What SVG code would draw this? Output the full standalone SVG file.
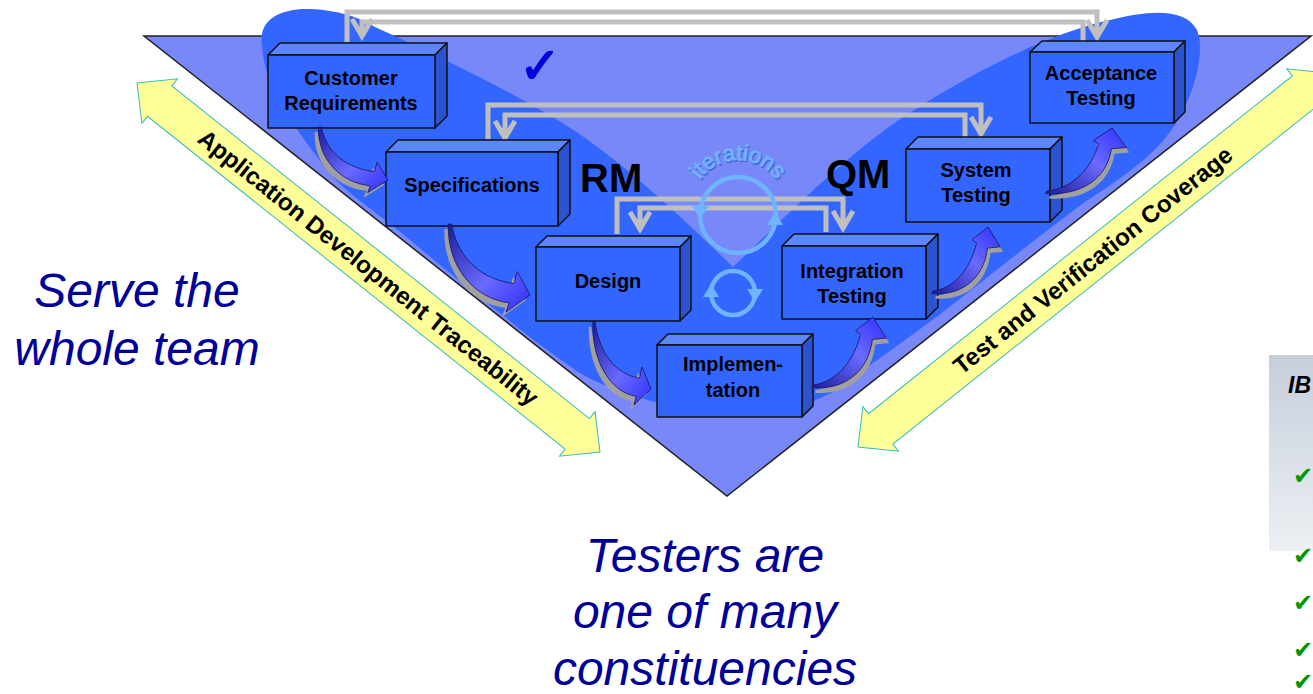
<svg xmlns="http://www.w3.org/2000/svg" xmlns:xlink="http://www.w3.org/1999/xlink" width="1313" height="694" viewBox="0 0 1313 694">
<style>
.front{fill:#3366FF;stroke:#111;stroke-width:1.5;stroke-linejoin:round}
.top{fill:#5C86FF;stroke:#111;stroke-width:1.5;stroke-linejoin:round}
.side{fill:#2B53CF;stroke:#111;stroke-width:1.5;stroke-linejoin:round}
.bt{font-family:"Liberation Sans",Arial,sans-serif;font-weight:bold;font-size:20px;text-anchor:middle;fill:#000}
.fb{fill:none;stroke:#BFBFBF;stroke-width:5}
.yel{fill:#FFFF99;stroke:#33BBBB;stroke-width:1}
.ylab{font-family:"Liberation Sans",Arial,sans-serif;font-weight:bold;font-size:24px;text-anchor:middle;fill:#000}
.big{font-family:"Liberation Sans",Arial,sans-serif;font-style:italic;font-size:48px;text-anchor:middle;fill:#000099}
.mq{font-family:"Liberation Sans",Arial,sans-serif;font-weight:bold;font-size:40px;fill:#000}
.it{fill:none;stroke:#6EB4FF;stroke-width:4.5}
.ith{fill:#6EB4FF}
.itx{font-family:"Liberation Sans",Arial,sans-serif;font-size:22px;stroke-width:0.9}
.gck{font-family:"DejaVu Sans",sans-serif;font-size:24px;fill:#009900}
</style>
<defs>
<linearGradient id="gd" x1="0" y1="0" x2="1" y2="1">
<stop offset="0" stop-color="#1c1c9c"/><stop offset="0.55" stop-color="#6a6aff"/><stop offset="1" stop-color="#2f2fff"/>
</linearGradient>
<linearGradient id="gu" x1="0" y1="1" x2="1" y2="0">
<stop offset="0" stop-color="#1c1c9c"/><stop offset="0.55" stop-color="#6a6aff"/><stop offset="1" stop-color="#2f2fff"/>
</linearGradient>
<linearGradient id="pg" x1="0" y1="0" x2="0" y2="1">
<stop offset="0" stop-color="#C6CEDA"/><stop offset="1" stop-color="#EDF0F4"/>
</linearGradient>
<path id="swd" vector-effect="non-scaling-stroke" stroke-width="0.8" d="M2,0 C10,50 40,78 80,84 L84,67 L100,100 L70,124 L74,111 C30,105 -4,60 -2,0 Z"/>
<path id="swu" vector-effect="non-scaling-stroke" stroke-width="0.8" d="M0,0 C40,-4 70,-38 79,-75 L71,-80 L100,-100 L122,-69 L99,-67 C93,-22 55,8 -2,4 Z"/>
<path id="iterArc" d="M691,207 A47,47 0 0 1 785,207"/>
<path id="iterArc2" d="M692,208.5 A47,47 0 0 1 786,208.5"/>
</defs>
<rect width="1313" height="694" fill="#fff"/>

<g id="triangle">
<polygon points="144,36 1311,36 727,496" fill="#7888F8" stroke="#222" stroke-width="1.5" stroke-linejoin="miter"/>
</g>
<g id="band">
<path fill="#3366FF" d="M262,45 C258,20 280,8 310,9 C335,10 358,16 375,27 C430,52 520,95 575,131 C630,168 690,225 733,267 C770,232 830,170 890,126 C950,85 1040,35 1110,20 C1150,10 1185,8 1197,30 C1203,45 1200,70 1188,100 C1170,140 1150,160 1085,202 C1040,235 1000,268 935,318 C905,340 885,355 860,372 C840,390 820,400 800,405 L670,405 C640,400 600,385 578,372 C540,345 520,330 505,317 C470,290 440,265 410,240 C380,215 350,195 336,180 C310,150 290,120 276,95 C268,80 263,62 262,45 Z"/>
</g>

<g id="traceability-arrow" transform="translate(137,83) rotate(38.55)">
<path class="yel" d="M0,0 L29,-28.5 L29,-19.5 L563,-19.5 L563,-28.5 L592,0 L563,28.5 L563,19.5 L29,19.5 L29,28.5 Z"/>
<text class="ylab" x="296" y="8.5">Application Development Traceability</text>
</g>
<g id="coverage-arrow" transform="translate(858,447) rotate(-38.55)">
<path class="yel" d="M0,0 L29,-28.5 L29,-19.5 L571,-19.5 L571,-28.5 L600,0 L571,28.5 L571,19.5 L29,19.5 L29,28.5 Z"/>
<text class="ylab" x="300" y="8.5">Test and Verification Coverage</text>
</g>

<g id="connectors">
<path class="fb" d="M347,42 V12 H1097 V37 M1087,20 L1097,37 L1107,20"/>
<path class="fb" d="M1083,41 V22 H362 V36 M352,19 L362,36 L372,19"/>
<path class="fb" d="M488,139 V105 H981 V134 M971,117 L981,134 L991,117"/>
<path class="fb" d="M965,137 V115 H505 V138 M495,121 L505,138 L515,121"/>
<path class="fb" d="M617,234 V199 H843 V228 M833,211 L843,228 L853,211"/>
<path class="fb" d="M826,232 V208 H640 V229 M630,212 L640,229 L650,212"/>
</g>

<g id="iterations">
<circle class="it" cx="738" cy="215" r="38"/>
<polygon class="ith" points="692,206 709,206 700,219"/>
<polygon class="ith" points="767,225 783,225 775,212"/>
<circle class="it" cx="733" cy="293" r="22"/>
<polygon class="ith" points="703,297 719,297 711,284"/>
<polygon class="ith" points="747,289 763,289 755,302"/>
<text class="itx" fill="#4468D8" stroke="#4468D8" aria-hidden="true"><textPath href="#iterArc2" xlink:href="#iterArc2" startOffset="50%" text-anchor="middle">iterations</textPath></text>
<text class="itx" fill="#70B2FF" stroke="#70B2FF"><textPath href="#iterArc" xlink:href="#iterArc" startOffset="50%" text-anchor="middle">iterations</textPath></text>
</g>

<g id="customer-requirements">
<polygon class="top" points="268,55 280,43 447,43 435,55"/>
<polygon class="side" points="435,55 447,43 447,116 435,128"/>
<rect class="front" x="268" y="55" width="167" height="73"/>
<text class="bt" x="351" y="85">Customer</text>
<text class="bt" x="351" y="110">Requirements</text>
</g>
<g id="specifications">
<polygon class="top" points="386,152 398,140 570,140 558,152"/>
<polygon class="side" points="558,152 570,140 570,214 558,226"/>
<rect class="front" x="386" y="152" width="172" height="74"/>
<text class="bt" x="472" y="192">Specifications</text>
</g>
<g id="design">
<polygon class="top" points="536,247 547,236 691,236 680,247"/>
<polygon class="side" points="680,247 691,236 691,310 680,321"/>
<rect class="front" x="536" y="247" width="144" height="74"/>
<text class="bt" x="608" y="288">Design</text>
</g>
<g id="implementation">
<polygon class="top" points="657,345 668,334 813,334 802,345"/>
<polygon class="side" points="802,345 813,334 813,406 802,417"/>
<rect class="front" x="657" y="345" width="145" height="72"/>
<text class="bt" x="733" y="371">Implemen-</text>
<text class="bt" x="733" y="397">tation</text>
</g>
<g id="integration-testing">
<polygon class="top" points="782,246 794,234 938,234 926,246"/>
<polygon class="side" points="926,246 938,234 938,307 926,319"/>
<rect class="front" x="782" y="246" width="144" height="73"/>
<text class="bt" x="852" y="278">Integration</text>
<text class="bt" x="852" y="303">Testing</text>
</g>
<g id="system-testing">
<polygon class="top" points="906,149 918,137 1062,137 1050,149"/>
<polygon class="side" points="1050,149 1062,137 1062,210 1050,222"/>
<rect class="front" x="906" y="149" width="144" height="73"/>
<text class="bt" x="976" y="177">System</text>
<text class="bt" x="976" y="202">Testing</text>
</g>
<g id="acceptance-testing">
<polygon class="top" points="1030,52 1042,41 1185,41 1174,52"/>
<polygon class="side" points="1174,52 1185,41 1185,112 1174,123"/>
<rect class="front" x="1030" y="52" width="144" height="71"/>
<text class="bt" x="1101" y="80">Acceptance</text>
<text class="bt" x="1101" y="105">Testing</text>
</g>

<g id="flow-arrows">
<use href="#swd" xlink:href="#swd" fill="#A0A0A0" transform="translate(316,132) scale(0.68,0.53)"/>
<use href="#swd" xlink:href="#swd" fill="url(#gd)" stroke="#15155a" transform="translate(320,127) scale(0.68,0.53)"/>
<use href="#swd" xlink:href="#swd" fill="#A0A0A0" transform="translate(446,229) scale(0.80,0.71)"/>
<use href="#swd" xlink:href="#swd" fill="url(#gd)" stroke="#15155a" transform="translate(450,224) scale(0.80,0.71)"/>
<use href="#swd" xlink:href="#swd" fill="#A0A0A0" transform="translate(590,327) scale(0.57,0.67)"/>
<use href="#swd" xlink:href="#swd" fill="url(#gd)" stroke="#15155a" transform="translate(594,322) scale(0.57,0.67)"/>
<use href="#swu" xlink:href="#swu" fill="#A0A0A0" transform="translate(816,390) scale(0.60,0.68)"/>
<use href="#swu" xlink:href="#swu" fill="url(#gu)" stroke="#15155a" transform="translate(813,385) scale(0.60,0.68)"/>
<use href="#swu" xlink:href="#swu" fill="#A0A0A0" transform="translate(936,296) scale(0.55,0.64)"/>
<use href="#swu" xlink:href="#swu" fill="url(#gu)" stroke="#15155a" transform="translate(933,291) scale(0.55,0.64)"/>
<use href="#swu" xlink:href="#swu" fill="#A0A0A0" transform="translate(1050,196) scale(0.65,0.63)"/>
<use href="#swu" xlink:href="#swu" fill="url(#gu)" stroke="#15155a" transform="translate(1047,191) scale(0.65,0.63)"/>
</g>

<g id="labels">
<text class="mq" x="580" y="192">RM</text>
<text class="mq" x="826" y="188">QM</text>
<text x="519" y="83" font-family="DejaVu Sans, sans-serif" font-size="50" fill="#0000DD" stroke="#0000DD" stroke-width="1.5">✓</text>
<text class="big" x="137" y="307">Serve the</text>
<text class="big" x="137" y="365">whole team</text>
<text class="big" x="705" y="572">Testers are</text>
<text class="big" x="705" y="628">one of many</text>
<text class="big" x="705" y="685">constituencies</text>
</g>

<g id="side-panel">
<rect x="1269" y="355" width="50" height="196" fill="url(#pg)"/>
<text x="1288" y="393" font-family="Liberation Sans, Arial, sans-serif" font-weight="bold" font-style="italic" font-size="23" fill="#000">IB</text>
<text class="gck" x="1293" y="484">✔</text>
<text class="gck" x="1293" y="564">✔</text>
<text class="gck" x="1293" y="611">✔</text>
<text class="gck" x="1293" y="658">✔</text>
<text class="gck" x="1293" y="690">✔</text>
</g>
</svg>
